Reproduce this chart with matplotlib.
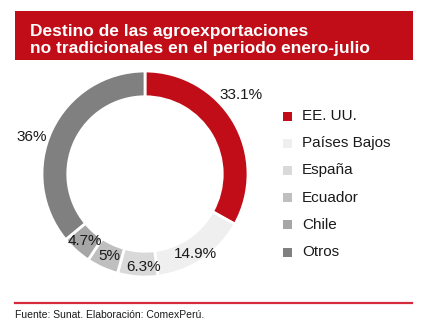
import matplotlib
matplotlib.use("Agg")
import matplotlib.pyplot as plt
import matplotlib.patches as patches
import numpy as np

plt.rcParams['font.family'] = ['Liberation Sans', 'DejaVu Sans']

# destinos y participación (%)
countries = ['EE. UU.', 'Países Bajos', 'España', 'Ecuador', 'Chile', 'Otros']
shares = [33.1, 14.9, 6.3, 5, 4.7, 36]
share_labels = ['33.1%', '14.9%', '6.3%', '5%', '4.7%', '36%']
colors = ['#C00D17', '#EFEFEF', '#D9D9D9', '#BFBFBF', '#A6A6A6', '#808080']

# where each percentage sits: radius and angular nudge (degrees)
label_radius = [1.21, 0.92, 0.90, 0.87, 0.87, 1.16]
label_nudge = [9, -2, 3, 1, 0, 7]

W, H = 428, 330
fig = plt.figure(figsize=(W / 100, H / 100), dpi=100)


def px(x, y):
    # pixel coords (top-left origin) -> figure fraction
    return x / W, 1 - y / H


# header band
x0, y0 = px(15, 60)
fig.patches.append(patches.Rectangle((x0, y0), 398 / W, 49 / H, transform=fig.transFigure,
                                     facecolor='#C00D17', edgecolor='none'))
tx, ty = px(30, 36)
fig.text(tx, ty, 'Destino de las agroexportaciones', color='white', fontsize=12.5,
         fontweight='bold', va='baseline')
tx, ty = px(30, 53)
fig.text(tx, ty, 'no tradicionales en el periodo enero-julio', color='white', fontsize=12.5,
         fontweight='bold', va='baseline')

# donut
ax = fig.add_axes([42 / W, 1 - 277 / H, 206 / W, 206 / H])
ax.pie(shares, colors=colors, startangle=90, counterclock=False, radius=1,
       wedgeprops=dict(width=0.25, edgecolor='white', linewidth=2))
ax.set_xlim(-1, 1)
ax.set_ylim(-1, 1)
ax.set_aspect('equal')
ax.axis('off')

cum = np.cumsum([0] + shares[:-1])
for i, (c, v) in enumerate(zip(cum, shares)):
    ang = np.deg2rad(90 - 3.6 * (c + v / 2) + label_nudge[i])
    r = label_radius[i]
    ax.text(r * np.cos(ang), r * np.sin(ang), share_labels[i], fontsize=11,
            color='#1a1a1a', ha='center', va='center', clip_on=False)

# legend
for i, (name, col) in enumerate(zip(countries, colors)):
    yc = 116 + i * 27.2
    sx, sy = px(283, yc + 4.5)
    fig.patches.append(patches.Rectangle((sx, sy), 9 / W, 9 / H, transform=fig.transFigure,
                                         facecolor=col, edgecolor='none'))
    lx, ly = px(302, yc)
    fig.text(lx, ly, name, fontsize=11, color='#1a1a1a', va='center')

# footer rule and source
fig.add_artist(plt.Line2D([15 / W, 412 / W], [1 - 303 / H, 1 - 303 / H],
                          transform=fig.transFigure, color='#D42A3A', linewidth=1.6))
fx, fy = px(15, 318)
fig.text(fx, fy, 'Fuente: Sunat. Elaboración: ComexPerú.', fontsize=7.5, color='#1a1a1a',
         va='baseline')

fig.savefig('out.png', dpi=100)
